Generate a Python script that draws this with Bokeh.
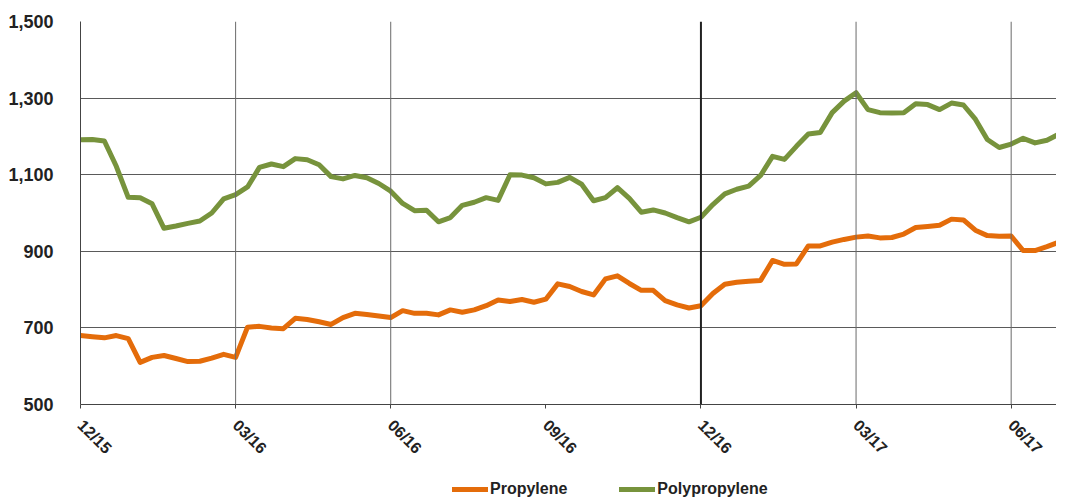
import math
from bokeh.plotting import figure
from bokeh.layouts import column
from bokeh.models import (Legend, LegendItem, FixedTicker, NumeralTickFormatter,
                          Range1d, Span)
from bokeh.embed import file_html
from bokeh.resources import INLINE

# ---- data (weekly, week 0 = 12/15) ----
weeks = list(range(84))
propylene = [680, 677, 674, 680, 672, 610, 623, 628, 620, 612,
             613, 621, 631, 623, 702, 704, 700, 698, 725, 722,
             716, 709, 727, 738, 735, 731, 727, 745, 738, 738,
             734, 747, 741, 747, 758, 773, 769, 774, 767, 775,
             815, 808, 795, 786, 828, 836, 816, 798, 798, 771,
             760, 752, 758, 790, 814, 819, 822, 824, 876, 866,
             867, 914, 914, 924, 931, 937, 940, 935, 936, 945,
             962, 965, 968, 984, 982, 955, 941, 939, 940, 902,
             902, 912, 924, 930]
polypropylene = [1191, 1192, 1188, 1122, 1041, 1040, 1024, 960, 966, 973,
                 979, 1000, 1037, 1048, 1068, 1119, 1128, 1121, 1142, 1139,
                 1126, 1095, 1089, 1098, 1092, 1077, 1057, 1025, 1006, 1007,
                 977, 988, 1020, 1028, 1040, 1033, 1100, 1099, 1092, 1076,
                 1080, 1093, 1075, 1032, 1040, 1066, 1038, 1002, 1008, 1000,
                 988, 977, 989, 1022, 1050, 1062, 1070, 1098, 1148, 1140,
                 1174, 1206, 1210, 1262, 1292, 1314, 1270, 1262, 1261, 1262,
                 1285, 1283, 1270, 1287, 1282, 1245, 1192, 1171, 1180, 1195,
                 1183, 1190, 1206, 1211]
tick_weeks = [0, 13, 26, 39, 52, 65, 78]
tick_labels = ["12/15", "03/16", "06/16", "09/16", "12/16", "03/17", "06/17"]
y_ticks = [500, 700, 900, 1100, 1300, 1500]
vlines_gray = [13, 26, 65, 78]
vline_dark = [52]
series_names = ["Propylene", "Polypropylene"]

ORANGE = "#E46C0A"
GREEN = "#77933C"
FONT = "Liberation Sans"

p = figure(frame_width=976, frame_height=383, output_backend="svg",
           toolbar_location=None,
           x_range=Range1d(0, 81.8), y_range=Range1d(500, 1500),
           min_border_left=80, min_border_right=0, min_border_top=21,
           min_border_bottom=77)
p.outline_line_color = None
p.background_fill_color = "white"

# grids
p.xgrid.grid_line_color = None
p.ygrid.ticker = FixedTicker(ticks=y_ticks)
p.ygrid.grid_line_color = "#5a5a5a"
p.ygrid.grid_line_width = 1

for w in vlines_gray:
    p.add_layout(Span(location=w, dimension="height", line_color="#6a6a6a",
                      line_width=1))
for w in vline_dark:
    p.add_layout(Span(location=w, dimension="height", line_color="#222222",
                      line_width=2))

# axes
p.yaxis.ticker = FixedTicker(ticks=y_ticks)
p.yaxis.formatter = NumeralTickFormatter(format="0,0")
p.yaxis.major_label_text_font = FONT
p.yaxis.major_label_text_font_style = "bold"
p.yaxis.major_label_text_font_size = "18px"
p.yaxis.major_label_text_color = "#222222"
p.yaxis.major_tick_line_color = None
p.yaxis.minor_tick_line_color = None
p.yaxis.axis_line_color = "#444444"
p.yaxis.major_label_standoff = 21

p.xaxis.ticker = FixedTicker(ticks=tick_weeks)
p.xaxis.major_label_overrides = {w: l for w, l in zip(tick_weeks, tick_labels)}
p.xaxis.major_label_orientation = -math.pi / 4
p.xaxis.major_label_text_font = FONT
p.xaxis.major_label_text_font_style = "bold"
p.xaxis.major_label_text_font_size = "16px"
p.xaxis.major_label_text_color = "#222222"
p.xaxis.major_tick_out = 4
p.xaxis.major_tick_in = 0
p.xaxis.major_tick_line_color = "#444444"
p.xaxis.minor_tick_line_color = None
p.xaxis.axis_line_color = "#444444"
p.xaxis.major_label_standoff = 14

p.line(weeks, propylene, line_color=ORANGE, line_width=5,
       line_join="round", line_cap="round")
p.line(weeks, polypropylene, line_color=GREEN, line_width=5,
       line_join="round", line_cap="round")

# legend strip below the chart (key renderers hold a single off-range point,
# so only their legend swatches are drawn)
lg = figure(width=1056, height=18, output_backend="svg", toolbar_location=None,
            x_range=Range1d(0, 1), y_range=Range1d(0, 1),
            x_axis_location=None, y_axis_location=None,
            min_border=0, min_border_left=0, min_border_right=0,
            min_border_top=0, min_border_bottom=0)
lg.outline_line_color = None
lg.grid.visible = False
k1 = lg.line([-5], [-5], line_color=ORANGE, line_width=5, line_cap="round")
k2 = lg.line([-5], [-5], line_color=GREEN, line_width=5, line_cap="round")
legend = Legend(items=[LegendItem(label=series_names[0], renderers=[k1]),
                       LegendItem(label=series_names[1], renderers=[k2])],
                orientation="horizontal", location=(372, 1),
                padding=0, margin=0, spacing=52, glyph_width=36,
                glyph_height=16, label_height=16, label_standoff=2,
                label_text_font=FONT, label_text_font_style="bold",
                label_text_font_size="16px", label_text_color="#222222",
                background_fill_alpha=0, border_line_color=None)
lg.add_layout(legend)

layout = column(p, lg, spacing=0)
open("out.html", "w").write(file_html(layout, INLINE))
